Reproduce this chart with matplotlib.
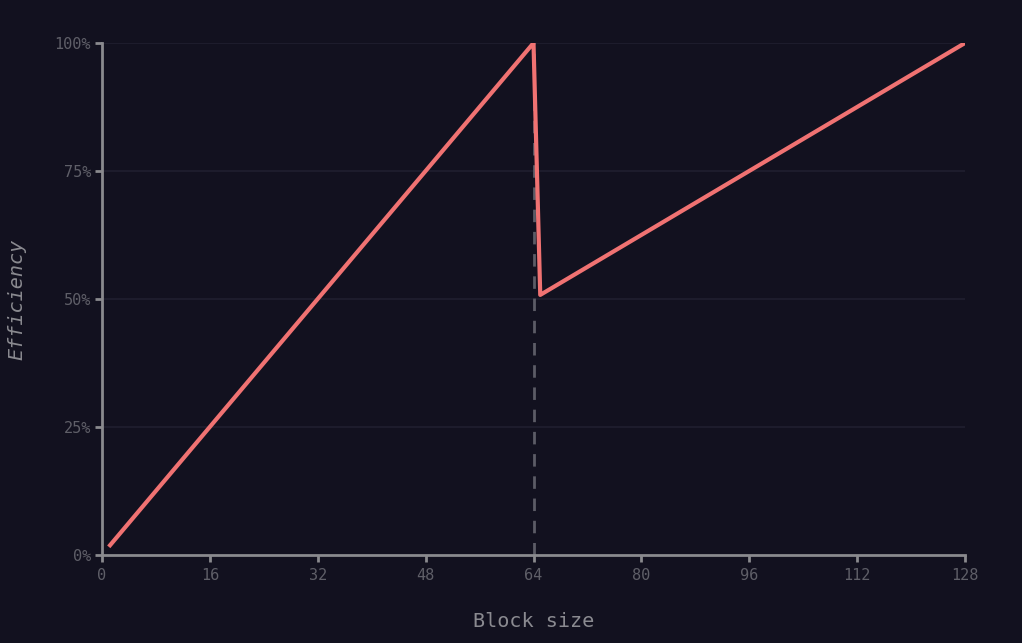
import matplotlib
matplotlib.use('Agg')
from matplotlib import pyplot as plt
from matplotlib.ticker import FuncFormatter

# block size vs efficiency
block_size = [1, 64, 65, 128]
efficiency = [0.016, 1.0, 0.508, 1.0]

x_ticks = [0, 16, 32, 48, 64, 80, 96, 112, 128]
y_ticks = [0, 0.25, 0.5, 0.75, 1.0]
marker_x = 64

bg = '#12111f'
mono = ['DejaVu Sans Mono', 'Liberation Mono']

plt.rcParams['font.family'] = mono

fig = plt.figure(figsize=(10.22, 6.43), dpi=100, facecolor=bg)
ax = fig.add_axes([102 / 1022, 88 / 643, 863 / 1022, 512 / 643], facecolor=bg)

for y in y_ticks[1:]:
    ax.axhline(y, color='#1f1e2e', lw=1.3, zorder=1)

ax.plot([marker_x, marker_x], [0, 1.0], color='#5c5c66', lw=2, ls=(0, (4.5, 3.5)), zorder=2)
ax.plot(block_size, efficiency, color='#f07272', lw=3, solid_capstyle='butt', zorder=3)

ax.set_xlim(0, 128)
ax.set_ylim(0, 1.0)
ax.set_xticks(x_ticks)
ax.set_yticks(y_ticks)
ax.yaxis.set_major_formatter(FuncFormatter(lambda v, p: f'{int(round(v * 100))}%'))

for s in ['top', 'right']:
    ax.spines[s].set_visible(False)
for s in ['left', 'bottom']:
    ax.spines[s].set_color('#8a8a8e')
    ax.spines[s].set_linewidth(2)

ax.tick_params(axis='both', colors='#8a8a8e', labelcolor='#5f5f68', labelsize=11,
               width=2, length=5, direction='out')
ax.tick_params(axis='x', pad=4.5)
ax.tick_params(axis='y', pad=3)

ax.set_xlabel('Block size', color='#8a8a90', fontsize=14.5, labelpad=21)
ax.set_ylabel('Efficiency', color='#8a8a90', fontsize=14.5, style='italic', labelpad=20)

fig.savefig('out.png', dpi=100, facecolor=bg)
